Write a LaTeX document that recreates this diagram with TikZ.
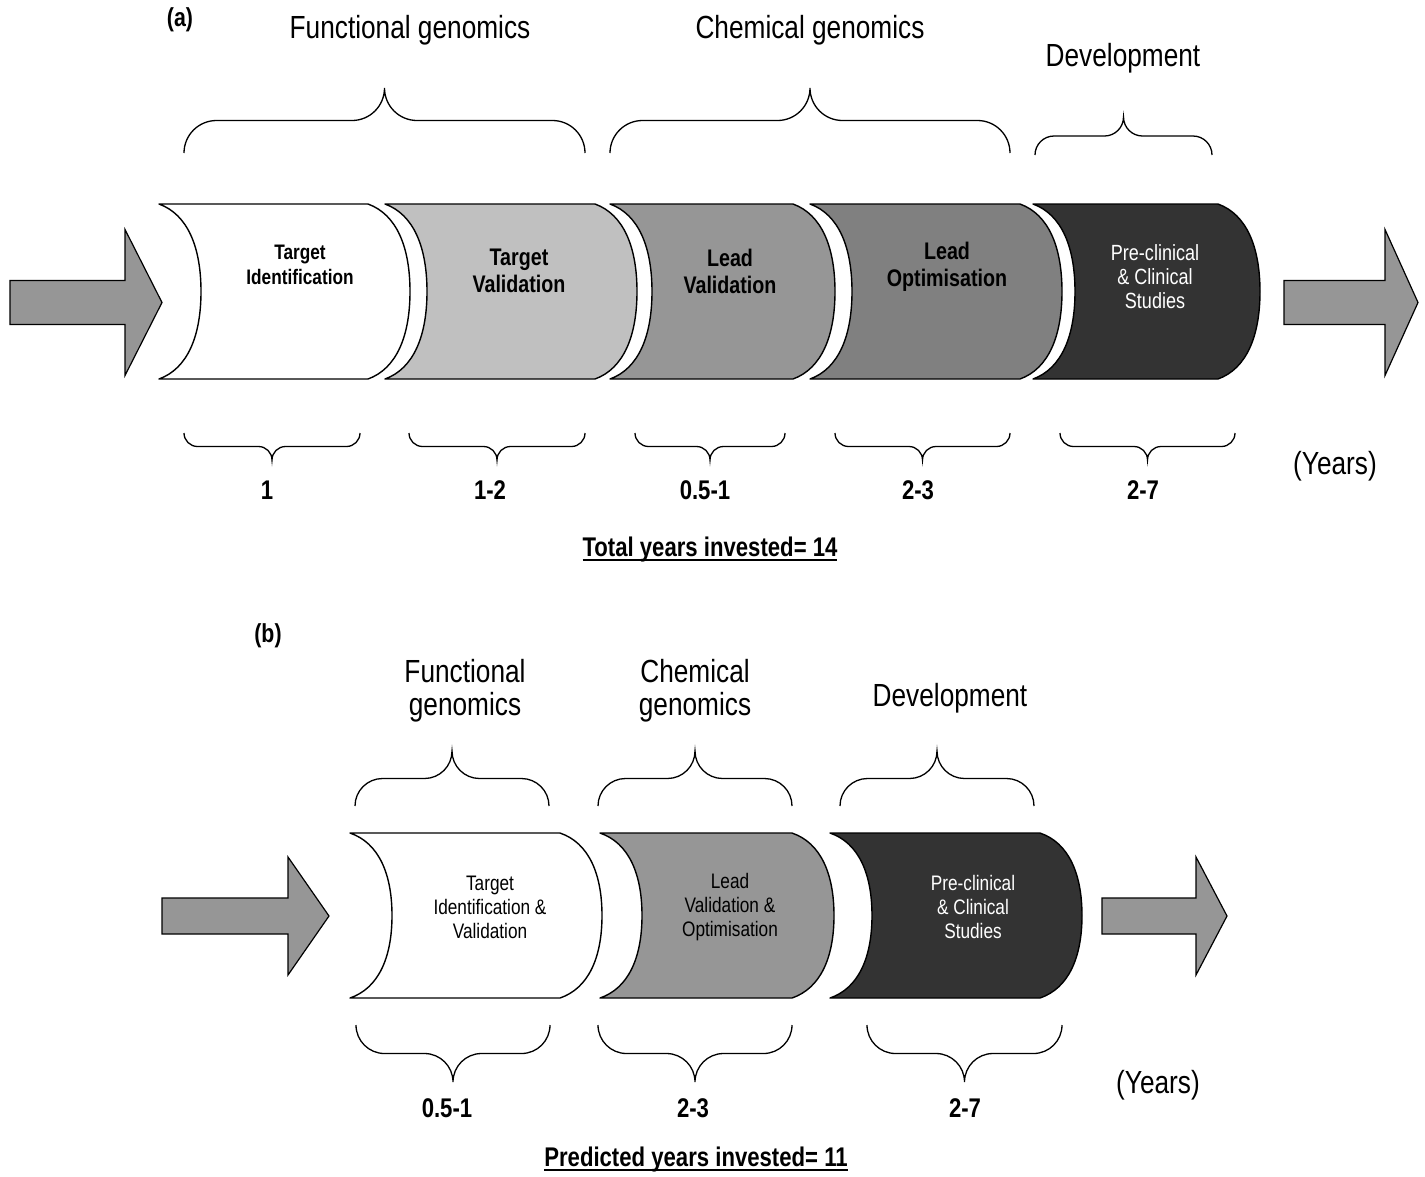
\documentclass[tikz,border=0pt]{standalone}
\usepackage{fontspec}
\setmainfont{Liberation Sans}[FakeStretch=0.82]

\definecolor{arrowgray}{HTML}{969696}
\definecolor{lightstage}{HTML}{C0C0C0}
\definecolor{midstage}{HTML}{969696}
\definecolor{deepstage}{HTML}{808080}
\definecolor{darkstage}{HTML}{333333}

% thick underline
\newcommand\thickul[1]{\setbox0\hbox{#1}\rlap{\rule[-4pt]{\wd0}{2.2pt}}\box0}
% one stage: left x, right x, top y, bottom y, fill
\newcommand\drawstage[5]{%
  \pgfmathsetmacro\stH{#4-#3}
  \pgfmathsetmacro\stM{(#3+#4)/2}
  \draw[stagebox,fill=#5] (#1,#3) -- (#2,#3)
    .. controls (#2+29,#3+0.06*\stH) and (#2+42,#3+0.25*\stH) .. (#2+42,\stM)
    .. controls (#2+42,#4-0.25*\stH) and (#2+29,#4-0.06*\stH) .. (#2,#4)
    -- (#1,#4)
    .. controls (#1+29,#4-0.06*\stH) and (#1+42,#4-0.25*\stH) .. (#1+42,\stM)
    .. controls (#1+42,#3+0.25*\stH) and (#1+29,#3+0.06*\stH) .. (#1,#3) -- cycle;
}
% curly brace: x1, x2, y of ends, y of tip
\newcommand\drawbrace[4]{%
  \pgfmathsetmacro\brV{(#4-#3)/2}
  \pgfmathsetmacro\brH{abs(\brV)}
  \pgfmathsetmacro\brM{(#1+#2)/2}
  \draw[brc] (#1,#3) .. controls (#1,#3+0.552*\brV) and (#1+0.448*\brH,#3+\brV) .. (#1+\brH,#3+\brV)
    -- (\brM-\brH,#3+\brV) .. controls (\brM-0.448*\brH,#3+\brV) and (\brM,#3+1.448*\brV) .. (\brM,#4)
    .. controls (\brM,#3+1.448*\brV) and (\brM+0.448*\brH,#3+\brV) .. (\brM+\brH,#3+\brV)
    -- (#2-\brH,#3+\brV) .. controls (#2-0.448*\brH,#3+\brV) and (#2,#3+0.552*\brV) .. (#2,#3);
}
% block arrow: tail x, head x, tip x, mid y, half shaft, half head
\newcommand\drawbigarrow[6]{%
  \draw[bigarrow] (#1,#4-#5) -- (#2,#4-#5) -- (#2,#4-#6) -- (#3,#4) -- (#2,#4+#6)
    -- (#2,#4+#5) -- (#1,#4+#5) -- cycle;
}

\begin{document}
\begin{tikzpicture}[x=1pt,y=-1pt]
  \tikzstyle{stagebox}=[draw=black,line width=1.4pt,line join=round]
  \tikzstyle{brc}=[line width=1.3pt]
  \tikzstyle{bigarrow}=[draw=black,fill=arrowgray,line width=1.2pt,line join=miter]
  \tikzstyle{hdr}=[align=center,font=\fontsize{32}{33}\selectfont]
  \tikzstyle{yrs}=[font=\bfseries\fontsize{27}{30}\selectfont]
  \tikzstyle{tag}=[font=\bfseries\fontsize{26}{30}\selectfont]
  \useasboundingbox (0,0) rectangle (1425,1176);

  % ---- (a) current pipeline
  \node[tag] (taga) at (180,20) {(a)};
  \node[hdr] (funca) at (410,30) {Functional genomics};
  \node[hdr] (chema) at (810,30) {Chemical genomics};
  \node[hdr] (deva) at (1123,58) {Development};
  \drawbrace{184}{585}{153}{88}
  \drawbrace{610}{1010}{153}{88}
  \drawbrace{1035}{1212}{155}{117}

  \drawbigarrow{10}{125}{162}{302.5}{22}{73}
  \drawstage{159}{368}{204}{379}{white}
  \drawstage{385}{595}{204}{379}{lightstage}
  \drawstage{610}{793}{204}{379}{midstage}
  \drawstage{810}{1020}{204}{379}{deepstage}
  \drawstage{1033}{1218}{204}{379}{darkstage}
  \drawbigarrow{1284}{1385}{1418}{302.5}{22}{73}

  \node[align=center,font=\bfseries\fontsize{21}{25}\selectfont] (tid) at (300,265) {Target\\Identification};
  \node[align=center,font=\bfseries\fontsize{24}{27}\selectfont] (tval) at (519,271) {Target\\Validation};
  \node[align=center,font=\bfseries\fontsize{24}{27}\selectfont] (lval) at (730,271) {Lead\\Validation};
  \node[align=center,font=\bfseries\fontsize{24}{27}\selectfont] (lopt) at (947,267) {Lead\\Optimisation};
  \node[align=center,text=white,font=\fontsize{22}{24}\selectfont] (clin) at (1155,277) {Pre-clinical\\\& Clinical\\Studies};

  \drawbrace{184}{360}{433}{460}
  \drawbrace{409}{585}{433}{460}
  \drawbrace{635}{785}{433}{460}
  \drawbrace{835}{1010}{433}{460}
  \drawbrace{1060}{1235}{433}{460}
  \node[yrs] (ya1) at (267,490) {1};
  \node[yrs] (ya2) at (490,490) {1-2};
  \node[yrs] (ya3) at (705,490) {0.5-1};
  \node[yrs] (ya4) at (918,490) {2-3};
  \node[yrs] (ya5) at (1143,490) {2-7};
  \node[hdr] (unita) at (1335,466) {(Years)};
  \node[yrs] (tota) at (710,550) {\thickul{Total years invested= 14}};

  % ---- (b) predicted pipeline
  \node[tag] (tagb) at (268,636) {(b)};
  \node[hdr] (funcb) at (465,691) {Functional\\genomics};
  \node[hdr] (chemb) at (695,691) {Chemical\\genomics};
  \node[hdr] (devb) at (950,698) {Development};
  \drawbrace{355}{549}{806}{751}
  \drawbrace{598}{792}{806}{751}
  \drawbrace{840}{1034}{806}{751}

  \drawbigarrow{162}{288}{329}{916}{18}{59}
  \drawstage{350}{560}{833}{998}{white}
  \drawstage{600}{792}{833}{998}{midstage}
  \drawstage{830}{1040}{833}{998}{darkstage}
  \drawbigarrow{1102}{1196}{1227}{916}{18}{59}

  \node[align=center,font=\fontsize{21}{24}\selectfont] (tidv) at (490,907) {Target\\Identification \&\\Validation};
  \node[align=center,font=\fontsize{21}{24}\selectfont] (lvo) at (730,907) {Lead\\Validation \&\\Optimisation};
  \node[align=center,text=white,font=\fontsize{21}{24}\selectfont] (clinb) at (973,907) {Pre-clinical\\\& Clinical\\Studies};

  \drawbrace{356}{550}{1025}{1082}
  \drawbrace{598}{792}{1025}{1082}
  \drawbrace{867}{1062}{1025}{1082}
  \node[yrs] (yb1) at (447,1108) {0.5-1};
  \node[yrs] (yb2) at (693,1108) {2-3};
  \node[yrs] (yb3) at (965,1108) {2-7};
  \node[hdr] (unitb) at (1158,1085) {(Years)};
  \node[yrs] (totb) at (696,1160) {\thickul{Predicted years invested= 11}};
\end{tikzpicture}
\end{document}
